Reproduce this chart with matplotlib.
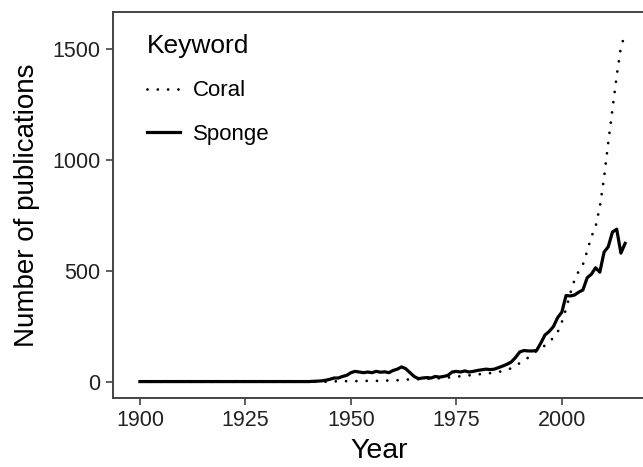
import numpy as np
import matplotlib.pyplot as plt

plt.rcParams['font.family'] = ['Liberation Sans', 'DejaVu Sans']

years = np.arange(1900, 2016)

# sponge publications per year
sponge_early = [2] * 41  # 1900-1940
sponge_late = [3, 4, 5, 8, 12, 18, 18, 25, 30, 42,          # 1941-1950
               48, 45, 42, 45, 42, 48, 44, 46, 42, 52,      # 1951-1960
               58, 68, 60, 42, 25, 15, 18, 20, 18, 25,      # 1961-1970
               22, 25, 30, 45, 48, 45, 50, 45, 48, 52,      # 1971-1980
               55, 58, 56, 58, 65, 72, 80, 90, 110, 135,    # 1981-1990
               142, 140, 140, 142, 175, 212, 228, 250, 290, 315,  # 1991-2000
               390, 388, 392, 405, 415, 470, 486, 515, 495, 585,  # 2001-2010
               610, 676, 689, 581, 625]                     # 2011-2015
sponge = np.array(sponge_early + sponge_late)

# coral publications per year
coral_early = [1] * 45  # 1900-1944
coral_late = [2, 3, 3, 3, 4, 4, 4, 4, 5, 5,                 # 1945-1954
              5, 5, 6, 6, 7, 7, 8, 9, 10, 12,               # 1955-1964
              12, 13, 13, 14, 15, 16, 17, 18, 20, 22,       # 1965-1974
              24, 26, 28, 30, 32, 34, 36, 38, 40, 42,       # 1975-1984
              45, 50, 55, 62, 72, 85, 95, 110, 125, 140,    # 1985-1994
              150, 165, 180, 200, 225, 270, 330, 400, 460, 500,  # 1995-2004
              530, 590, 655, 700, 790, 920, 1080, 1230, 1380, 1510,  # 2005-2014
              1570]                                          # 2015
coral = np.array(coral_early + coral_late)

fig = plt.figure(figsize=(6.43, 4.67), dpi=100)
ax = fig.add_axes([0.1757, 0.1478, 0.828, 0.826])

ax.plot(years, coral, color='black', lw=2.0, linestyle=(0, (0.01, 3.7)),
        dash_capstyle='round', label='Coral')
ax.plot(years, sponge, color='black', lw=2.3, label='Sponge')

ax.set_xlim(1893.6, 2019.8)
ax.set_ylim(-72, 1667)
ax.set_xticks([1900, 1925, 1950, 1975, 2000])
ax.set_yticks([0, 500, 1000, 1500])

for s in ['left', 'bottom', 'top']:
    ax.spines[s].set_color('#444444')
    ax.spines[s].set_linewidth(1.4)
ax.spines['right'].set_visible(False)
ax.tick_params(direction='out', length=5, width=1.1, color='#333333',
               labelsize=15.5, labelcolor='#222222', pad=4)

ax.set_xlabel('Year', fontsize=20.5, labelpad=5)
ax.set_ylabel('Number of publications', fontsize=20, labelpad=9)

leg = ax.legend(title='Keyword', loc='upper left', frameon=False,
                bbox_to_anchor=(0.2286, 0.927), bbox_transform=fig.transFigure,
                borderpad=0, borderaxespad=0, fontsize=16, title_fontsize=19,
                handlelength=1.5, handletextpad=0.55, labelspacing=1.0,
                alignment='left')

fig.savefig('out.png', dpi=100)
